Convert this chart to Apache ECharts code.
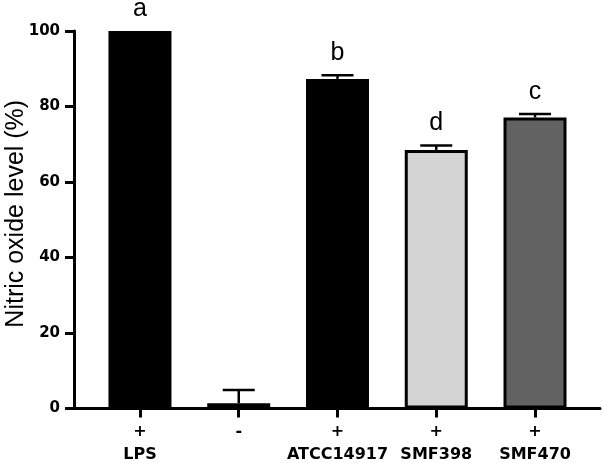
<!DOCTYPE html>
<html>
<head>
<meta charset="utf-8">
<script src="https://cdn.jsdelivr.net/npm/echarts@6/dist/echarts.min.js"></script>
<style>html,body{margin:0;padding:0;background:#fff}#c{width:603px;height:463px}</style>
</head>
<body>
<div id="c"></div>
<script>
const categories = ['LPS', '', 'ATCC14917', 'SMF398', 'SMF470'];
const signs = ['+', '-', '+', '+', '+'];
const means = [100, 1.4, 87.3, 68.5, 77.1];
const errors = [0, 3.5, 1.0, 1.2, 0.9];
const letters = ['a', '', 'b', 'd', 'c'];
const barColors = ['#000000', '#ffffff', '#000000', '#d4d4d4', '#626262'];

const idx = categories.map((_, i) => i);
const chart = echarts.init(document.getElementById('c'), null, {renderer: 'canvas'});

chart.setOption({
  animation: false,
  grid: {left: 74, right: 3, top: 31, bottom: 54.5, containLabel: false, outerBoundsMode: 'none'},
  xAxis: {
    type: 'value',
    min: -0.668,
    max: 4.658,
    splitLine: {show: false},
    axisLine: {show: true, onZero: false, lineStyle: {color: '#000', width: 3}},
    axisTick: {show: true, customValues: idx, length: 9, lineStyle: {color: '#000', width: 3}},
    axisLabel: {
      customValues: idx,
      margin: 12,
      formatter: v => {
        const i = Math.round(v);
        return '{s|' + signs[i] + '}\n{n|' + (categories[i] || ' ') + '}';
      },
      rich: {
        s: {fontFamily: 'DejaVu Sans', fontWeight: 'bold', fontSize: 16, lineHeight: 23, color: '#000'},
        n: {fontFamily: 'DejaVu Sans', fontWeight: 'bold', fontSize: 16, lineHeight: 23, color: '#000'}
      }
    }
  },
  yAxis: {
    type: 'value',
    min: 0, max: 100, interval: 20,
    splitLine: {show: false},
    axisLine: {show: true, onZero: false, lineStyle: {color: '#000', width: 3}},
    axisTick: {show: true, length: 9, lineStyle: {color: '#000', width: 3}},
    axisLabel: {margin: 14, fontFamily: 'DejaVu Sans', fontWeight: 'bold', fontSize: 15, color: '#000'},
    name: 'Nitric oxide level (%)',
    nameLocation: 'middle',
    nameGap: 45,
    nameMoveOverlap: false,
    nameTextStyle: {fontFamily: 'Liberation Sans', fontSize: 25, color: '#000', padding: [0, 0, 0, 12]}
  },
  series: [
    {
      type: 'custom',
      z: 1,
      data: idx.map(i => [i, means[i], errors[i], i]),
      renderItem: (params, api) => {
        const x = api.value(0), m = api.value(1), e = api.value(2);
        const p0 = api.coord([x, m]);
        const p1 = api.coord([x, m + e]);
        const children = [];
        if (e > 0) {
          children.push({type: 'line', shape: {x1: p0[0], y1: p0[1], x2: p1[0], y2: p1[1]}, style: {stroke: '#000', lineWidth: 2.5}});
          children.push({type: 'line', shape: {x1: p1[0] - 16, y1: p1[1], x2: p1[0] + 16, y2: p1[1]}, style: {stroke: '#000', lineWidth: 2.5}});
        }
        return {type: 'group', children: children};
      }
    },
    {
      type: 'bar',
      z: 2,
      barWidth: 63,
      data: idx.map(i => ({value: [i, means[i]], itemStyle: {color: barColors[i], borderColor: '#000', borderWidth: 3}}))
    },
    {
      type: 'custom',
      z: 3,
      data: idx.map(i => [i, means[i] + errors[i], i]),
      renderItem: (params, api) => {
        const i = api.value(2);
        const p = api.coord([api.value(0), api.value(1)]);
        return {type: 'text', x: p[0], y: p[1] - 22, style: {text: letters[i], fill: '#000', font: '25px "Liberation Sans"', align: 'center', verticalAlign: 'middle'}};
      }
    }
  ]
});
</script>
</body>
</html>
